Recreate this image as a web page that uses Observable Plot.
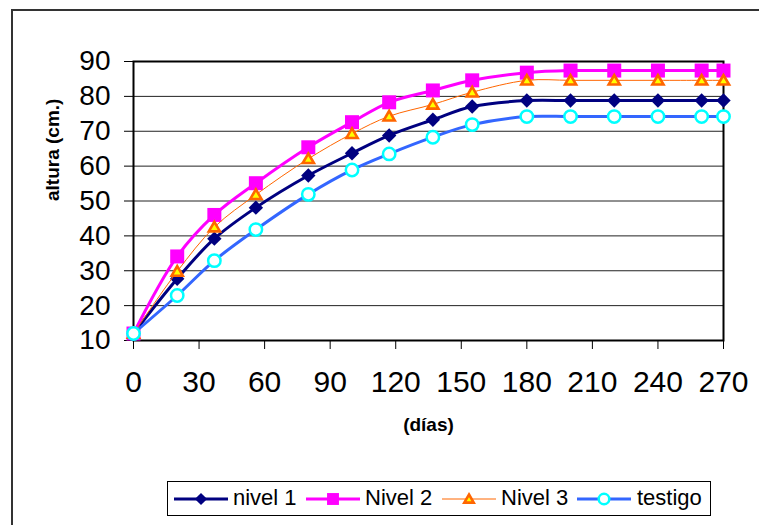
<!DOCTYPE html>
<html>
<head>
<meta charset="utf-8">
<script src="https://cdn.jsdelivr.net/npm/d3@7"></script>
<script src="https://cdn.jsdelivr.net/npm/@observablehq/plot@0.6"></script>
<style>
  html, body { margin: 0; padding: 0; background: #fff; }
  body { width: 759px; height: 525px; overflow: hidden; position: relative; font-family: "Liberation Sans", Arial, sans-serif; }
  #outer { position: absolute; left: 11px; top: 9px; width: 900px; height: 700px; border: 2px solid #333; box-sizing: border-box; }
  #chart { position: absolute; left: 0; top: 0; }
  #legend { position: absolute; left: 167px; top: 481px; width: 544px; height: 35px; border: 1px solid #000; box-sizing: border-box; background: #fff; }
  .item { position: absolute; top: 0; height: 33px; }
  .item svg { position: absolute; top: 0; }
  .item span { position: absolute; top: 4px; font-size: 22px; line-height: 24px; color: #000; white-space: nowrap; }
</style>
</head>
<body>
<div id="outer"></div>
<div id="chart"></div>
<div id="legend"></div>
<script>
// ---- data ----
const days = [0, 20, 37, 56, 80, 100, 117, 137, 155, 180, 200, 220, 240, 260, 270];
const nivel1 = [12, 27.7, 39.2, 48.1, 57.3, 63.7, 68.8, 73.3, 77.1, 78.8, 78.8, 78.8, 78.8, 78.8, 78.8];
const nivel2 = [12, 34.1, 46.0, 55.1, 65.4, 72.6, 78.3, 81.7, 84.6, 86.8, 87.4, 87.4, 87.4, 87.4, 87.4];
const nivel3 = [12, 29.8, 42.5, 51.8, 62.1, 69.3, 74.3, 77.7, 81.2, 84.6, 84.6, 84.6, 84.6, 84.6, 84.6];
const testigo = [12, 22.9, 32.9, 41.8, 51.9, 58.9, 63.5, 68.3, 71.9, 74.2, 74.2, 74.2, 74.2, 74.2, 74.2];
const seriesNames = ["nivel 1", "Nivel 2", "Nivel 3", "testigo"];
const xTicks = [0, 30, 60, 90, 120, 150, 180, 210, 240, 270];
const yTicks = [10, 20, 30, 40, 50, 60, 70, 80, 90];
const yTitle = "altura (cm.)";
const xTitle = "(días)";

// ---- symbols ----
const rad = (size) => Math.sqrt(size / Math.PI);
const diamondSym = { draw(c, size) { const r = rad(size); c.moveTo(0, -r); c.lineTo(r, 0); c.lineTo(0, r); c.lineTo(-r, 0); c.closePath(); } };
const squareSym = { draw(c, size) { const r = rad(size); c.moveTo(-r, -r); c.lineTo(r, -r); c.lineTo(r, r); c.lineTo(-r, r); c.closePath(); } };
const triSym = { draw(c, size) { const r = rad(size); c.moveTo(0, -r); c.lineTo(r * 1.05, r * 0.8); c.lineTo(-r * 1.05, r * 0.8); c.closePath(); } };

const styles = [
  { line: { stroke: "#000080", strokeWidth: 3 }, dot: { symbol: diamondSym, r: 7.2, fill: "#000080", stroke: "none" } },
  { line: { stroke: "#FF00FF", strokeWidth: 3 }, dot: { symbol: squareSym, r: 7, fill: "#FF00FF", stroke: "none" } },
  { line: { stroke: "#FF6600", strokeWidth: 1 }, dot: { symbol: triSym, r: 5.3, fill: "#FFFF00", stroke: "#FF6600", strokeWidth: 2.6 } },
  { line: { stroke: "#3366FF", strokeWidth: 3 }, dot: { symbol: "circle", r: 6.2, fill: "#FFFFFF", stroke: "#00FFFF", strokeWidth: 2.5 } }
];

const allSeries = [nivel1, nivel2, nivel3, testigo];
const seriesMarks = allSeries.flatMap((vals, k) => {
  const data = days.map((d, i) => ({ d, v: vals[i] }));
  return [
    Plot.line(data, { x: "d", y: "v", curve: "catmull-rom", ...styles[k].line }),
    Plot.dot(data, { x: "d", y: "v", ...styles[k].dot })
  ];
});

const chart = Plot.plot({
  width: 759,
  height: 525,
  marginLeft: 133,
  marginRight: 36,
  marginTop: 61,
  marginBottom: 185,
  x: { domain: [0, 270] },
  y: { domain: [10, 90] },
  style: { fontFamily: "'Liberation Sans', Arial, sans-serif", background: "transparent", overflow: "visible", color: "#000" },
  marks: [
    Plot.gridY(yTicks, { stroke: "#222", strokeOpacity: 1, strokeWidth: 1 }),
    Plot.axisY(yTicks, { tickSize: 9, tickPadding: 14, fontSize: 28, label: null, stroke: "#000" }),
    Plot.axisX(xTicks, { tickSize: 9, tickPadding: 21, fontSize: 30, label: null, stroke: "#000" }),
    Plot.frame({ stroke: "#000", strokeWidth: 2 }),
    ...seriesMarks,
    Plot.text([yTitle], { frameAnchor: "left", dx: -81, rotate: -90, fontSize: 19, fontWeight: "bold", fill: "#000" }),
    Plot.text([xTitle], { frameAnchor: "bottom", dy: 90, fontSize: 19, fontWeight: "bold", fill: "#000" })
  ]
});
document.getElementById("chart").appendChild(chart);

// ---- legend ----
const legend = document.getElementById("legend");
const legendPos = [
  { line: 174, text: 233 },
  { line: 306, text: 365 },
  { line: 442, text: 501 },
  { line: 577, text: 637 }
];
seriesNames.forEach((name, k) => {
  const item = document.createElement("div");
  item.className = "item";
  item.style.left = (legendPos[k].line - 168) + "px";
  const svg = d3.create("svg").attr("width", 56).attr("height", 33);
  const s = styles[k];
  svg.append("line").attr("x1", 0).attr("x2", 54).attr("y1", 17).attr("y2", 17)
    .attr("stroke", s.line.stroke).attr("stroke-width", s.line.strokeWidth);
  const sym = typeof s.dot.symbol === "string" ? d3.symbolCircle : s.dot.symbol;
  const r = s.dot.r * 0.85;
  svg.append("path").attr("transform", "translate(27,17)")
    .attr("d", d3.symbol(sym, r * r * Math.PI)())
    .attr("fill", s.dot.fill).attr("stroke", s.dot.stroke || "none").attr("stroke-width", s.dot.strokeWidth || 0);
  item.appendChild(svg.node());
  const span = document.createElement("span");
  span.textContent = name;
  span.style.left = (legendPos[k].text - legendPos[k].line) + "px";
  item.appendChild(span);
  legend.appendChild(item);
});
</script>
</body>
</html>
